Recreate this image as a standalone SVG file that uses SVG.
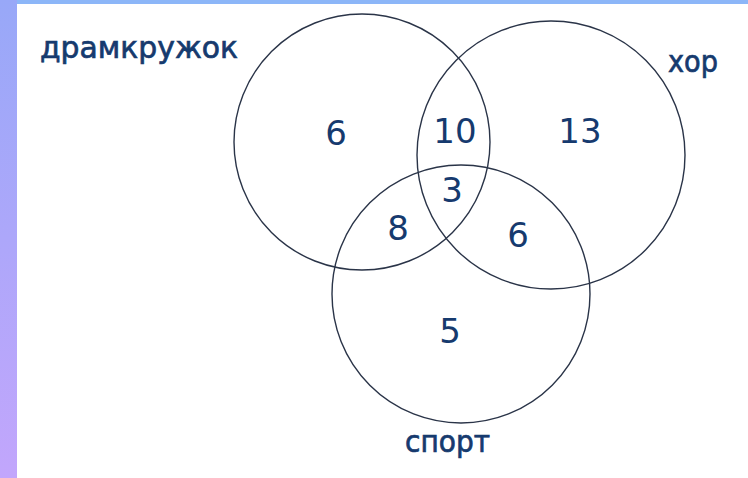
<svg xmlns="http://www.w3.org/2000/svg" width="748" height="478" viewBox="0 0 748 478">
<style>
.c{fill:none;stroke:#2a3448;stroke-width:1.4}
.t{font-family:"DejaVu Sans","Noto Sans",sans-serif;fill:#163a6e;stroke:#163a6e;stroke-width:0.7;font-size:30px}
.n{font-family:"DejaVu Sans","Noto Sans",sans-serif;fill:#163a6e;font-size:34px;text-anchor:middle}
</style>
<defs>
<linearGradient id="lb" x1="0" y1="0" x2="0" y2="1">
<stop offset="0" stop-color="#98a8f8"/>
<stop offset="1" stop-color="#c2a6fc"/>
</linearGradient>
</defs>
<rect width="748" height="478" fill="#ffffff"/>
<rect x="0" y="0" width="748" height="4" fill="#8cb6f8"/>
<rect x="0" y="0" width="17" height="478" fill="url(#lb)"/>
<g id="circles">
<g id="drama"><circle class="c" cx="362" cy="142" r="128"/></g>
<g id="choir"><circle class="c" cx="551" cy="155" r="134"/></g>
<g id="sport"><circle class="c" cx="461" cy="294" r="129"/></g>
</g>
<g id="labels">
<text class="t" x="40" y="58" textLength="198" lengthAdjust="spacingAndGlyphs">драмкружок</text>
<text class="t" x="668" y="72" textLength="50" lengthAdjust="spacingAndGlyphs">хор</text>
<text class="t" x="405" y="452" textLength="85" lengthAdjust="spacingAndGlyphs">спорт</text>
</g>
<g id="numbers">
<text class="n" x="336" y="145">6</text>
<text class="n" x="455" y="143">10</text>
<text class="n" x="580" y="143">13</text>
<text class="n" x="452" y="202">3</text>
<text class="n" x="398" y="240">8</text>
<text class="n" x="518" y="247">6</text>
<text class="n" x="450" y="343">5</text>
</g>
</svg>
